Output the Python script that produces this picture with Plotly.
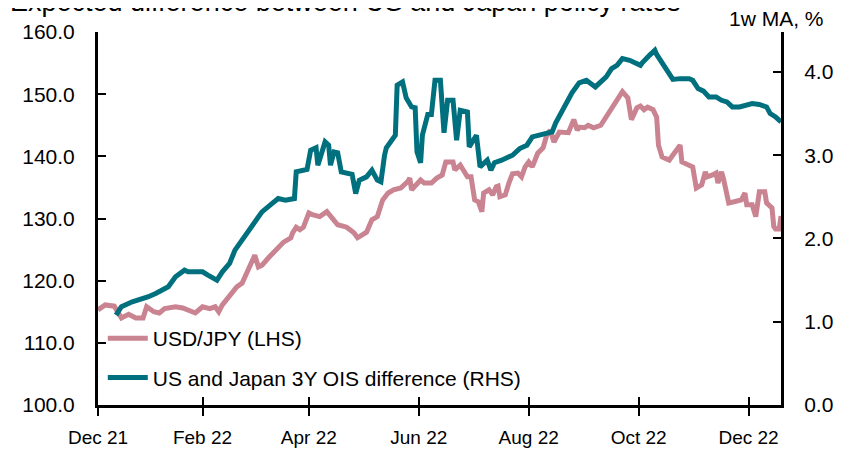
import plotly.graph_objects as go

# USD/JPY (left axis)
usdjpy_dates = [
    "2021-12-05", "2021-12-09", "2021-12-14", "2021-12-18", "2021-12-22", "2021-12-26", "2021-12-30",
    "2022-01-01", "2022-01-05", "2022-01-08", "2022-01-11", "2022-01-17", "2022-01-21", "2022-01-25",
    "2022-01-28", "2022-02-01", "2022-02-05", "2022-02-08", "2022-02-10", "2022-02-12", "2022-02-16",
    "2022-02-20", "2022-02-23", "2022-02-27", "2022-03-02", "2022-03-04", "2022-03-06", "2022-03-10",
    "2022-03-14", "2022-03-18", "2022-03-22", "2022-03-23", "2022-03-25", "2022-03-27", "2022-03-29",
    "2022-04-01", "2022-04-03", "2022-04-07", "2022-04-11", "2022-04-13", "2022-04-17", "2022-04-22",
    "2022-04-26", "2022-04-28", "2022-05-01", "2022-05-03", "2022-05-06", "2022-05-09", "2022-05-12",
    "2022-05-15", "2022-05-18", "2022-05-22", "2022-05-26", "2022-05-27", "2022-05-28", "2022-05-31",
    "2022-06-02", "2022-06-04", "2022-06-08", "2022-06-11", "2022-06-14", "2022-06-16", "2022-06-20",
    "2022-06-21", "2022-06-24", "2022-06-28", "2022-06-30", "2022-07-02", "2022-07-04", "2022-07-06",
    "2022-07-07", "2022-07-10", "2022-07-12", "2022-07-14", "2022-07-15", "2022-07-16", "2022-07-19",
    "2022-07-21", "2022-07-23", "2022-07-26", "2022-07-28", "2022-07-30", "2022-08-01", "2022-08-03",
    "2022-08-06", "2022-08-09", "2022-08-11", "2022-08-13", "2022-08-15", "2022-08-18", "2022-08-23",
    "2022-08-26", "2022-08-28", "2022-08-29", "2022-09-01", "2022-09-03", "2022-09-06", "2022-09-10",
    "2022-09-12", "2022-09-15", "2022-09-18", "2022-09-22", "2022-09-25", "2022-09-26", "2022-09-27",
    "2022-09-30", "2022-10-02", "2022-10-04", "2022-10-06", "2022-10-09", "2022-10-11", "2022-10-12",
    "2022-10-14", "2022-10-18", "2022-10-21", "2022-10-24", "2022-10-25", "2022-10-29", "2022-10-31",
    "2022-11-02", "2022-11-05", "2022-11-07", "2022-11-08", "2022-11-11", "2022-11-13", "2022-11-14",
    "2022-11-16", "2022-11-17", "2022-11-20", "2022-11-23", "2022-11-27", "2022-11-29", "2022-11-30",
    "2022-12-03", "2022-12-05", "2022-12-07", "2022-12-10", "2022-12-11", "2022-12-14", "2022-12-15",
    "2022-12-16", "2022-12-18", "2022-12-19",
]
usdjpy_values = [
    115.3, 116.1, 115.9, 114.0, 114.6, 114.0, 114.0,
    115.8, 115.0, 114.8, 115.5, 115.8, 115.6, 115.1,
    114.8, 115.8, 115.5, 115.8, 115.0, 116.1, 117.4,
    119.0, 119.6, 122.2, 124.1, 122.2, 122.5, 123.8,
    125.0, 126.2, 126.9, 127.7, 128.6, 128.2, 128.6,
    130.9, 130.6, 130.3, 131.1, 130.3, 129.0, 128.6,
    127.7, 126.9, 127.4, 127.8, 129.8, 130.3, 133.0,
    134.1, 134.6, 134.9, 136.0, 136.5, 134.6, 135.4,
    136.2, 135.7, 135.7, 136.5, 137.0, 139.1, 139.1,
    137.8, 138.6, 136.7, 136.7, 133.0, 132.7, 131.1,
    134.1, 134.6, 133.8, 135.1, 135.2, 133.5, 133.8,
    135.7, 137.2, 137.3, 136.7, 138.3, 139.1, 138.3,
    140.5, 141.4, 143.4, 144.2, 142.3, 143.9, 143.8,
    145.9, 144.2, 144.7, 144.6, 145.0, 144.6, 145.0,
    145.9, 147.5, 148.7, 150.4, 149.4, 147.9, 145.9,
    147.8, 148.1, 147.5, 147.9, 147.5, 146.3, 141.8,
    139.9, 139.4, 140.5, 141.8, 139.1, 138.6, 138.3,
    134.9, 135.4, 137.5, 136.7, 137.0, 137.3, 135.7,
    137.5, 136.5, 132.5, 132.7, 133.0, 134.1, 132.2,
    132.2, 130.3, 134.3, 134.3, 132.5, 131.7, 128.7,
    128.3, 128.3, 130.4,
]

# US and Japan 3Y OIS difference, 1w MA, % (right axis)
ois_dates = [
    "2021-12-15", "2021-12-18", "2021-12-24", "2021-12-28", "2022-01-02", "2022-01-06", "2022-01-09",
    "2022-01-13", "2022-01-17", "2022-01-22", "2022-01-24", "2022-02-01", "2022-02-04", "2022-02-09",
    "2022-02-12", "2022-02-16", "2022-02-19", "2022-02-23", "2022-02-27", "2022-03-03", "2022-03-06",
    "2022-03-11", "2022-03-15", "2022-03-19", "2022-03-24", "2022-03-25", "2022-03-31", "2022-04-02",
    "2022-04-05", "2022-04-06", "2022-04-08", "2022-04-10", "2022-04-12", "2022-04-13", "2022-04-15",
    "2022-04-17", "2022-04-19", "2022-04-22", "2022-04-25", "2022-04-27", "2022-04-29", "2022-05-03",
    "2022-05-06", "2022-05-09", "2022-05-11", "2022-05-13", "2022-05-14", "2022-05-17", "2022-05-19",
    "2022-05-20", "2022-05-23", "2022-05-25", "2022-05-28", "2022-05-30", "2022-05-31", "2022-06-02",
    "2022-06-03", "2022-06-06", "2022-06-08", "2022-06-10", "2022-06-13", "2022-06-15", "2022-06-17",
    "2022-06-20", "2022-06-22", "2022-06-24", "2022-06-28", "2022-06-29", "2022-07-02", "2022-07-03",
    "2022-07-05", "2022-07-07", "2022-07-09", "2022-07-11", "2022-07-13", "2022-07-17", "2022-07-23",
    "2022-07-27", "2022-07-31", "2022-08-03", "2022-08-07", "2022-08-14", "2022-08-16", "2022-08-19",
    "2022-08-22", "2022-08-25", "2022-08-29", "2022-09-02", "2022-09-07", "2022-09-10", "2022-09-13",
    "2022-09-16", "2022-09-19", "2022-09-22", "2022-09-26", "2022-10-02", "2022-10-03", "2022-10-07",
    "2022-10-10", "2022-10-11", "2022-10-14", "2022-10-17", "2022-10-20", "2022-10-24", "2022-10-29",
    "2022-10-31", "2022-11-03", "2022-11-06", "2022-11-09", "2022-11-13", "2022-11-16", "2022-11-19",
    "2022-11-22", "2022-11-26", "2022-11-30", "2022-12-03", "2022-12-07", "2022-12-11", "2022-12-13",
    "2022-12-16", "2022-12-19",
]
ois_values = [
    1.08, 1.18, 1.24, 1.26, 1.30, 1.34, 1.38,
    1.42, 1.54, 1.62, 1.60, 1.60, 1.56, 1.50,
    1.60, 1.70, 1.86, 1.98, 2.12, 2.22, 2.32,
    2.41, 2.48, 2.46, 2.48, 2.80, 2.83, 3.06,
    3.09, 2.88, 3.03, 3.16, 3.12, 2.88, 3.04,
    3.03, 2.80, 2.79, 2.77, 2.54, 2.70, 2.74,
    2.82, 2.70, 2.68, 3.00, 3.09, 3.18, 3.24,
    3.84, 3.88, 3.69, 3.58, 3.57, 3.04, 2.91,
    3.24, 3.49, 3.49, 3.90, 3.90, 3.27, 3.66,
    3.66, 3.18, 3.54, 3.52, 3.10, 3.22, 3.24,
    2.86, 2.91, 2.94, 2.82, 2.91, 2.94, 3.00,
    3.08, 3.12, 3.22, 3.24, 3.28, 3.39, 3.51,
    3.60, 3.75, 3.87, 3.90, 3.82, 3.88, 3.94,
    4.04, 4.08, 4.16, 4.14, 4.08, 4.11, 4.20,
    4.26, 4.21, 4.11, 3.99, 3.91, 3.92, 3.92,
    3.90, 3.80, 3.77, 3.70, 3.70, 3.66, 3.64,
    3.58, 3.58, 3.61, 3.62, 3.61, 3.58, 3.50,
    3.46, 3.40,
]

x_tick_dates = ["2021-12-05", "2022-02-01", "2022-04-01", "2022-06-01", "2022-08-01", "2022-10-01", "2022-12-01"]
x_tick_labels = ["Dec 21", "Feb 22", "Apr 22", "Jun 22", "Aug 22", "Oct 22", "Dec 22"]
x_range = ["2021-12-05", "2022-12-19"]

PINK = "#C98391"
TEAL = "#00707E"
FONT = "Liberation Sans, Arial, sans-serif"

fig = go.Figure()
fig.add_trace(go.Scatter(
    x=usdjpy_dates, y=usdjpy_values, name="USD/JPY (LHS)", mode="lines",
    line=dict(color=PINK, width=5), legendgroup="a",
))
fig.add_trace(go.Scatter(
    x=ois_dates, y=ois_values, name="US and Japan 3Y OIS difference (RHS)", mode="lines",
    line=dict(color=TEAL, width=5), yaxis="y2", legendgroup="b",
))
# invisible trace hosting the overlay x axis (gives ticks crossing the axis line)
fig.add_trace(go.Scatter(x=x_range, y=[None, None], xaxis="x2", showlegend=False, hoverinfo="skip"))

xtick_font = dict(family=FONT, size=19, color="black")
ytick_font = dict(family=FONT, size=21, color="black")
fig.update_layout(
    width=849, height=449,
    margin=dict(l=90, r=76, t=24, b=52),
    paper_bgcolor="white", plot_bgcolor="white",
    font=xtick_font,
    showlegend=True,
    legend=dict(
        x=0.007, y=0.233, xanchor="left", yanchor="top",
        bgcolor="rgba(0,0,0,0)", font=dict(family=FONT, size=21, color="black"),
        tracegroupgap=9, itemwidth=40,
    ),
    xaxis=dict(
        type="date", range=x_range, tickvals=x_tick_dates, ticktext=x_tick_labels,
        showgrid=False, zeroline=False, showline=True, linecolor="black", linewidth=3,
        ticks="outside", ticklen=8, tickwidth=2, tickcolor="black",
        tickfont=xtick_font, automargin=False, ticklabelstandoff=5,
    ),
    xaxis2=dict(
        type="date", range=x_range, tickvals=x_tick_dates, overlaying="x", showticklabels=False,
        showgrid=False, zeroline=False, showline=False,
        ticks="inside", ticklen=8, tickwidth=2, tickcolor="black",
    ),
    yaxis=dict(
        range=[100, 160], dtick=10, tick0=100, tickformat=".1f",
        showgrid=False, zeroline=False, showline=True, linecolor="black", linewidth=3,
        ticks="inside", ticklen=8, tickwidth=2, tickcolor="black", tickfont=ytick_font,
        automargin=False, ticklabelstandoff=16,
    ),
    yaxis2=dict(
        range=[0, 4.48], dtick=1, tick0=0, tickformat=".1f", overlaying="y", side="right",
        showgrid=False, zeroline=False, showline=True, linecolor="black", linewidth=3,
        ticks="inside", ticklen=8, tickwidth=2, tickcolor="black", tickfont=ytick_font,
        automargin=False, ticklabelstandoff=16,
    ),
    annotations=[
        dict(text="Expected difference between US and Japan policy rates", xref="paper", yref="paper",
             x=-0.132, y=1.08, xanchor="left", yanchor="middle", showarrow=False,
             font=dict(family=FONT, size=27, color="black")),
        dict(text="1w MA, %", xref="paper", yref="paper",
             x=1.066, y=1.036, xanchor="right", yanchor="middle", showarrow=False,
             font=dict(family=FONT, size=21, color="black")),
    ],
)

fig.write_html("out.html")
